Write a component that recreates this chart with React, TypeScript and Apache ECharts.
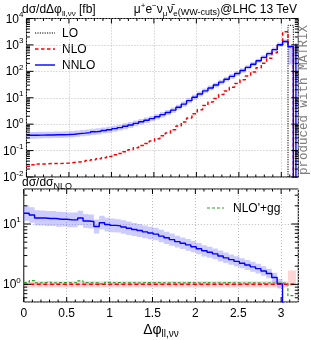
import React, { useEffect, useRef } from 'react';
import * as echarts from 'echarts';

const FONT = "'Liberation Sans', Arial, Helvetica, sans-serif";
const MONO = "'Liberation Mono', 'DejaVu Sans Mono', monospace";

// ---- binning ----
const NBINS = 50;
const binEdges: number[] = Array.from({ length: NBINS + 1 }, (_, i) => (i * Math.PI) / NBINS);
const tailEdge = 3.172;
const FLOOR = 1e-6;

// ---- axis ranges / ticks ----
const xRange = [0, 3.2];
const topYRange = [0.01, 10000];
const lowYRange = [0.51, 38];
const xMajorTicks = [0, 0.5, 1, 1.5, 2, 2.5, 3];
const xMinorTicks = [0.1, 0.2, 0.3, 0.4, 0.6, 0.7, 0.8, 0.9, 1.1, 1.2, 1.3, 1.4, 1.6, 1.7, 1.8, 1.9, 2.1, 2.2, 2.3, 2.4, 2.6, 2.7, 2.8, 2.9, 3.1];
const topYMajor = [0.01, 0.1, 1, 10, 100, 1000, 10000];
const lowYMajor = [1, 10];
const lowYMinor = [0.6, 0.7, 0.8, 0.9, 2, 3, 4, 5, 6, 7, 8, 9, 20, 30];

// ---- legends ----
const topLegend = ['LO', 'NLO', 'NNLO'];
const lowLegend = ["NLO'+gg"];

// ---- top panel: dσ/dΔφ [fb] per bin ----
const loLastBin = 5500;
const nloTop = [
  0.0257, 0.0288, 0.0309, 0.0316, 0.0324, 0.0324, 0.0331, 0.0339, 0.0355, 0.0372,
  0.0389, 0.0417, 0.0447, 0.049, 0.0537, 0.0603, 0.0692, 0.0776, 0.0912, 0.107,
  0.129, 0.155, 0.186, 0.229, 0.282, 0.363, 0.468, 0.617, 0.857, 1.2,
  1.72, 2.5, 3.54, 5.06, 6.9, 9.4, 13.2, 18.2, 25.1, 34.7,
  48, 67, 95, 138, 204, 312, 510, 1000, 3160, 860,
];
const nnloTop = [
  0.38, 0.38, 0.385, 0.389, 0.389, 0.398, 0.398, 0.407, 0.417, 0.437,
  0.457, 0.479, 0.513, 0.537, 0.575, 0.617, 0.676, 0.741, 0.832, 0.933,
  1.07, 1.23, 1.41, 1.62, 1.91, 2.29, 2.75, 3.39, 4.37, 5.75,
  7.76, 10.5, 13.8, 18.2, 23.4, 30.2, 38.9, 50.1, 64.6, 83.2,
  107, 141, 186, 251, 339, 468, 661, 1020, 1350, 870,
];
const nnloErr = [
  0.34, 0.34, 0.34, 0.33, 0.33, 0.33, 0.33, 0.32, 0.32, 0.32,
  0.32, 0.31, 0.31, 0.31, 0.3, 0.3, 0.3, 0.29, 0.29, 0.29,
  0.28, 0.28, 0.28, 0.27, 0.27, 0.27, 0.26, 0.26, 0.25, 0.25,
  0.25, 0.24, 0.24, 0.24, 0.23, 0.23, 0.23, 0.22, 0.22, 0.22,
  0.21, 0.21, 0.21, 0.2, 0.2, 0.2, 0.2, 0.2, 0.2, 0.2,
];
const nnloLastBand = [180, 870];
const nnloTailTop = 1100;

// ---- lower panel: ratio to NLO ----
const nnloRatio = [
  15.1, 14.1, 12.6, 12.6, 12.3, 12.3, 12.0, 12.0, 11.7, 11.7,
  12.6, 11.2, 11.0, 9.1, 10.5, 9.8, 9.5, 9.3, 8.9, 8.5,
  8.1, 7.8, 7.4, 7.1, 6.8, 6.3, 5.9, 5.5, 5.1, 4.8,
  4.5, 4.2, 3.9, 3.6, 3.4, 3.2, 2.95, 2.75, 2.57, 2.4,
  2.24, 2.09, 1.95, 1.82, 1.66, 1.51, 1.3, 1.02, 0.4,
];
const ggRatio = [
  1.07, 1.15, 1.06, 1.07, 1.09, 1.06, 1.07, 1.07, 1.06, 1.07,
  1.14, 1.07, 1.06, 1.07, 1.02, 1.08, 1.06, 1.07, 1.06, 1.07,
  1.06, 1.06, 1.07, 1.06, 1.07, 1.06, 1.06, 1.07, 1.06, 1.06,
  1.07, 1.06, 1.06, 1.07, 1.06, 1.06, 1.06, 1.07, 1.06, 1.06,
  1.05, 1.06, 1.06, 1.05, 1.05, 1.06, 1.05, 1.05, 1.04, 0.65,
];
const nloRatio = [1, 1];
const nloBandLo = [0.885, 0.95];
const nloBandHi = [1.13, 1.7];

// ---- colours / styles ----
const BLUE = '#0000ff';
const BLUE_BAND = 'rgba(110,110,255,0.35)';
const RED = '#ff0000';
const PINK_BAND = 'rgba(255,90,90,0.25)';
const GREEN = '#2e9e2e';
const GRID_LINE = '#bdbdbd';
const LO_DASH = [1.2, 1.2];
const NLO_DASH = [3.5, 2.5];
const GG_DASH = [3, 2];

function stepPoints(edges: number[], vals: number[]): number[][] {
  const pts: number[][] = [];
  vals.forEach((v, i) => {
    pts.push([edges[i], v], [edges[i + 1], v]);
  });
  return pts;
}

function decadeMinors(lo: number, hi: number): number[] {
  const out: number[] = [];
  for (let k = Math.floor(Math.log10(lo)); k < Math.ceil(Math.log10(hi)); k++) {
    for (let m = 2; m <= 9; m++) {
      const v = m * Math.pow(10, k);
      if (v > lo && v < hi) out.push(v);
    }
  }
  return out;
}

function bandRenderer(items: number[][], color: string, yMin: number, yMax: number) {
  return (params: any, api: any) => {
    if (params.dataIndex !== 0) return null;
    const upper: number[][] = [];
    const lower: number[][] = [];
    items.forEach(([x0, x1, lo, hi]) => {
      const h = Math.min(Math.max(hi, yMin), yMax);
      const l = Math.min(Math.max(lo, yMin), yMax);
      upper.push(api.coord([x0, h]), api.coord([x1, h]));
      lower.push(api.coord([x0, l]), api.coord([x1, l]));
    });
    return {
      type: 'polygon',
      shape: { points: [...upper, ...lower.reverse()] },
      style: { fill: color },
    };
  };
}

function tickRenderer(params: any, api: any) {
  const cs = params.coordSys;
  const x = api.value(0);
  const y = api.value(1);
  const kind = api.value(2);
  const major = api.value(3);
  const p = api.coord([x, y]);
  const st = { stroke: '#000', lineWidth: 1 };
  if (kind === 0) {
    const len = major ? 5 : 2.5;
    const b = cs.y + cs.height;
    return {
      type: 'group',
      children: [
        { type: 'line', shape: { x1: p[0], y1: b, x2: p[0], y2: b - len }, style: st },
        { type: 'line', shape: { x1: p[0], y1: cs.y, x2: p[0], y2: cs.y + len }, style: st },
      ],
    };
  }
  const len = major ? 7 : 3.5;
  const r = cs.x + cs.width;
  return {
    type: 'group',
    children: [
      { type: 'line', shape: { x1: cs.x, y1: p[1], x2: cs.x + len, y2: p[1] }, style: st },
      { type: 'line', shape: { x1: r, y1: p[1], x2: r - len, y2: p[1] }, style: st },
    ],
  };
}

function tickData(yMajor: number[], yMinor: number[]): number[][] {
  return [
    ...xMajorTicks.map((v) => [v, 1, 0, 1]),
    ...xMinorTicks.map((v) => [v, 1, 0, 0]),
    ...yMajor.map((v) => [1, v, 1, 1]),
    ...yMinor.map((v) => [1, v, 1, 0]),
  ];
}

function powLabel(v: number): string {
  const l = Math.log10(v);
  const k = Math.round(l);
  if (Math.abs(l - k) > 1e-6) return '';
  return `{b|10}{s|${k}}`;
}

const powRich = {
  b: { fontSize: 12, fontFamily: FONT, color: '#000', lineHeight: 16, verticalAlign: 'middle' },
  s: { fontSize: 8, fontFamily: FONT, color: '#000', lineHeight: 16, verticalAlign: 'top' },
};

function legendEntry(x: number, y: number, len: number, textX: number, label: string, stroke: string, width: number, dash: any) {
  return [
    {
      type: 'line',
      silent: true,
      shape: { x1: x, y1: y, x2: x + len, y2: y },
      style: { stroke, lineWidth: width, lineDash: dash },
    },
    {
      type: 'text',
      x: textX,
      y,
      silent: true,
      style: { text: label, font: `12px ${FONT}`, fill: '#000', align: 'left', verticalAlign: 'middle' },
    },
  ];
}

function buildOption() {
  const topEdges = [...binEdges, tailEdge];
  const lowEdges = [...binEdges.slice(0, NBINS), tailEdge];

  const nnloTopLine = [...stepPoints(topEdges, [...nnloTop, FLOOR]), [tailEdge, nnloTailTop]];
  const nloTopLine = stepPoints(topEdges, [...nloTop, FLOOR]);
  const loLine = [
    [binEdges[NBINS - 1], FLOOR],
    ...stepPoints([binEdges[NBINS - 1], binEdges[NBINS]], [loLastBin]),
    [binEdges[NBINS], FLOOR],
  ];
  const topBand = [
    ...nnloTop.slice(0, NBINS - 1).map((v, i) => [binEdges[i], binEdges[i + 1], v / (1 + nnloErr[i]), v * (1 + nnloErr[i])]),
    [binEdges[NBINS - 1], tailEdge, nnloLastBand[0], nnloLastBand[1]],
  ];

  const nloRatioEdges = [0, binEdges[NBINS - 1], tailEdge];
  const pinkBand = nloRatio.map((_, i) => [nloRatioEdges[i], nloRatioEdges[i + 1], nloBandLo[i], nloBandHi[i]]);
  const ratioBand = nnloRatio.map((v, i) => [lowEdges[i], lowEdges[i + 1], v / (1 + nnloErr[i]), v * (1 + nnloErr[i])]);

  const gridLine = { show: true, lineStyle: { color: GRID_LINE, type: [1, 2], width: 1 } };
  const xCommon = {
    type: 'value',
    min: xRange[0],
    max: xRange[1],
    interval: 0.5,
    axisLine: { show: false },
    axisTick: { show: false },
    splitLine: gridLine,
  };

  const lineSeries = (name: string, data: number[][], color: string, width: number, type: any, xi: number, z: number) => ({
    name,
    type: 'line',
    xAxisIndex: xi,
    yAxisIndex: xi,
    data,
    symbol: 'none',
    showSymbol: false,
    clip: true,
    silent: true,
    z,
    lineStyle: { color, width, type },
    itemStyle: { color },
  });

  return {
    animation: false,
    textStyle: { fontFamily: FONT },
    grid: [
      { left: 22, right: 12.7, top: 18.5, height: 158.5, show: true, borderColor: '#000', borderWidth: 1, backgroundColor: 'transparent' },
      { left: 22, right: 12.7, top: 189, height: 113, show: true, borderColor: '#000', borderWidth: 1, backgroundColor: 'transparent' },
    ],
    xAxis: [
      { ...xCommon, gridIndex: 0, axisLabel: { show: false } },
      {
        ...xCommon,
        gridIndex: 1,
        axisLabel: {
          show: true,
          margin: 5,
          fontSize: 12,
          fontFamily: FONT,
          color: '#000',
          formatter: (v: number) => (Math.abs(v * 2 - Math.round(v * 2)) < 1e-6 && v <= 3.0001 ? String(v) : ''),
        },
      },
    ],
    yAxis: [
      {
        gridIndex: 0,
        type: 'log',
        logBase: 10,
        min: topYRange[0],
        max: topYRange[1],
        splitNumber: 6,
        axisLine: { show: false },
        axisTick: { show: false },
        splitLine: gridLine,
        axisLabel: { formatter: powLabel, rich: powRich, margin: 3 },
      },
      {
        gridIndex: 1,
        type: 'log',
        logBase: 10,
        min: lowYRange[0],
        max: lowYRange[1],
        axisLine: { show: false },
        axisTick: { show: false },
        splitLine: gridLine,
        axisLabel: { formatter: powLabel, rich: powRich, margin: 3 },
      },
    ],
    series: [
      {
        type: 'custom',
        name: 'nnloBand',
        xAxisIndex: 0,
        yAxisIndex: 0,
        silent: true,
        z: 1,
        data: topBand,
        encode: { x: [0, 1], y: [2, 3] },
        renderItem: bandRenderer(topBand, BLUE_BAND, topYRange[0], topYRange[1]),
      },
      lineSeries(topLegend[0], loLine, '#000', 1, LO_DASH, 0, 3),
      lineSeries(topLegend[1], nloTopLine, RED, 1.5, NLO_DASH, 0, 4),
      lineSeries(topLegend[2], nnloTopLine, BLUE, 1.4, 'solid', 0, 5),
      {
        type: 'custom',
        name: 'ticksTop',
        xAxisIndex: 0,
        yAxisIndex: 0,
        silent: true,
        z: 10,
        data: tickData(topYMajor, decadeMinors(topYRange[0], topYRange[1])),
        encode: { x: 0, y: 1 },
        renderItem: tickRenderer,
      },
      {
        type: 'custom',
        name: 'nloBand',
        xAxisIndex: 1,
        yAxisIndex: 1,
        silent: true,
        z: 1,
        data: pinkBand,
        encode: { x: [0, 1], y: [2, 3] },
        renderItem: bandRenderer(pinkBand, PINK_BAND, lowYRange[0], lowYRange[1]),
      },
      {
        type: 'custom',
        name: 'ratioBand',
        xAxisIndex: 1,
        yAxisIndex: 1,
        silent: true,
        z: 2,
        data: ratioBand,
        encode: { x: [0, 1], y: [2, 3] },
        renderItem: bandRenderer(ratioBand, BLUE_BAND, lowYRange[0], lowYRange[1]),
      },
      lineSeries('NLO ratio', stepPoints(nloRatioEdges, nloRatio), RED, 1.5, [4, 2.5], 1, 4),
      lineSeries(lowLegend[0], stepPoints(lowEdges, ggRatio), GREEN, 1.2, GG_DASH, 1, 5),
      lineSeries('NNLO ratio', stepPoints(lowEdges, nnloRatio), BLUE, 1.4, 'solid', 1, 6),
      {
        type: 'custom',
        name: 'ticksLow',
        xAxisIndex: 1,
        yAxisIndex: 1,
        silent: true,
        z: 10,
        data: tickData(lowYMajor, lowYMinor),
        encode: { x: 0, y: 1 },
        renderItem: tickRenderer,
      },
    ],
    graphic: [
      ...legendEntry(35, 33, 20, 62, topLegend[0], '#000', 1, LO_DASH),
      ...legendEntry(35, 49, 20, 62, topLegend[1], RED, 1.5, NLO_DASH),
      ...legendEntry(35, 65, 20, 62, topLegend[2], BLUE, 1.4, null),
      ...legendEntry(207, 208, 17, 233, lowLegend[0], GREEN, 1.2, GG_DASH),
      {
        type: 'text',
        x: 22,
        y: 9,
        silent: true,
        style: {
          text: '{a|dσ/dΔφ}{s|ll,νν}{a| [fb]}',
          align: 'left',
          verticalAlign: 'middle',
          fill: '#000',
          rich: {
            a: { fontSize: 12, fontFamily: FONT, fill: '#000', lineHeight: 16, verticalAlign: 'middle' },
            s: { fontSize: 8, fontFamily: FONT, fill: '#000', lineHeight: 16, verticalAlign: 'bottom' },
          },
        },
      },
      {
        type: 'text',
        x: 297,
        y: 9,
        silent: true,
        style: {
          text: '{a|μ}{sp|+}{a|e}{sp|−}{a|ν}{sb|μ}{a|ν̄}{sb|e}{sm|(WW-cuts)}{a|@LHC 13 TeV}',
          align: 'right',
          verticalAlign: 'middle',
          fill: '#000',
          rich: {
            a: { fontSize: 12, fontFamily: FONT, fill: '#000', lineHeight: 16, verticalAlign: 'middle' },
            sp: { fontSize: 8, fontFamily: FONT, fill: '#000', lineHeight: 16, verticalAlign: 'top' },
            sb: { fontSize: 8, fontFamily: FONT, fill: '#000', lineHeight: 16, verticalAlign: 'bottom' },
            sm: { fontSize: 9, fontFamily: FONT, fill: '#000', lineHeight: 16, verticalAlign: 'bottom', padding: [0, 0, 1, 0] },
          },
        },
      },
      {
        type: 'text',
        x: 22,
        y: 182,
        silent: true,
        style: {
          text: '{a|dσ/dσ}{s|NLO}',
          align: 'left',
          verticalAlign: 'middle',
          fill: '#000',
          rich: {
            a: { fontSize: 12, fontFamily: FONT, fill: '#000', lineHeight: 16, verticalAlign: 'middle' },
            s: { fontSize: 9, fontFamily: FONT, fill: '#000', lineHeight: 16, verticalAlign: 'bottom' },
          },
        },
      },
      {
        type: 'text',
        x: 161,
        y: 329,
        silent: true,
        style: {
          text: '{a|Δφ}{s|ll,νν}',
          align: 'center',
          verticalAlign: 'middle',
          fill: '#000',
          rich: {
            a: { fontSize: 14, fontFamily: FONT, fill: '#000', lineHeight: 18, verticalAlign: 'middle' },
            s: { fontSize: 10, fontFamily: FONT, fill: '#000', lineHeight: 18, verticalAlign: 'bottom' },
          },
        },
      },
      {
        type: 'text',
        x: 303.5,
        y: 100,
        rotation: Math.PI / 2,
        silent: true,
        style: {
          text: 'produced with MATRIX',
          font: `12.5px ${MONO}`,
          fill: '#808080',
          align: 'center',
          verticalAlign: 'middle',
        },
      },
    ],
  };
}

export default function App() {
  const ref = useRef<HTMLDivElement>(null);
  useEffect(() => {
    if (!ref.current) return;
    const chart = echarts.init(ref.current, null, { renderer: 'svg' });
    chart.setOption(buildOption() as any);
    return () => chart.dispose();
  }, []);
  return <div ref={ref} style={{ position: 'fixed', left: 0, top: 0, width: 311, height: 340 }} />;
}
